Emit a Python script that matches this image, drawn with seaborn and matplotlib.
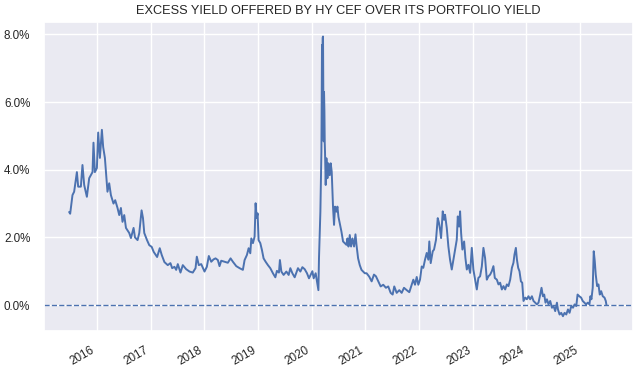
import numpy as np
import pandas as pd
import matplotlib
matplotlib.use('Agg')
import matplotlib.pyplot as plt
import matplotlib.dates as mdates
from matplotlib.ticker import PercentFormatter, MultipleLocator
import seaborn as sns

# dates as decimal years, excess yield in %
years = [
    2015.487, 2015.506, 2015.549, 2015.580, 2015.631, 2015.655, 2015.705, 2015.735,
    2015.767, 2015.817, 2015.860, 2015.922, 2015.940, 2015.966, 2016.004, 2016.028,
    2016.060, 2016.097, 2016.121, 2016.153, 2016.177, 2016.201, 2016.233, 2016.265,
    2016.313, 2016.345, 2016.388, 2016.420, 2016.451, 2016.481, 2016.513, 2016.545,
    2016.606, 2016.638, 2016.687, 2016.713, 2016.761, 2016.793, 2016.836, 2016.862,
    2016.886, 2016.937, 2016.979, 2017.022, 2017.060, 2017.123, 2017.172, 2017.209,
    2017.259, 2017.321, 2017.371,
    # 2017 - 2019
    2017.403, 2017.446, 2017.478, 2017.508, 2017.558, 2017.601, 2017.664, 2017.726,
    2017.787, 2017.838, 2017.862, 2017.899, 2017.944, 2018.006, 2018.049, 2018.086,
    2018.131, 2018.174, 2018.211, 2018.254, 2018.285, 2018.317, 2018.379, 2018.440,
    2018.491, 2018.534, 2018.597, 2018.659, 2018.720, 2018.752, 2018.795, 2018.827,
    2018.858, 2018.877, 2018.907, 2018.938, 2018.957, 2018.976, 2018.994, 2019.013,
    2019.045, 2019.075, 2019.106, 2019.144, 2019.187, 2019.231, 2019.280, 2019.325,
    2019.354, 2019.392, 2019.410, 2019.437, 2019.479, 2019.530, 2019.573, 2019.604,
    2019.642, 2019.685, 2019.746, 2019.791, 2019.828, 2019.871, 2019.914, 2019.951,
    # 2020 - 2021
    2020.015, 2020.039, 2020.076, 2020.101, 2020.127, 2020.138, 2020.164, 2020.183,
    2020.190, 2020.194, 2020.200, 2020.206, 2020.213, 2020.219, 2020.226, 2020.232,
    2020.239, 2020.245, 2020.250, 2020.263, 2020.276, 2020.295, 2020.313, 2020.338,
    2020.356, 2020.375, 2020.399, 2020.418, 2020.437, 2020.463, 2020.481, 2020.500,
    2020.524, 2020.556, 2020.586, 2020.618, 2020.649, 2020.668, 2020.687, 2020.711,
    2020.735, 2020.761, 2020.791, 2020.817, 2020.836, 2020.866, 2020.897, 2020.929,
    2020.959, 2020.991, 2021.022, 2021.071,
    # 2021 - 2023
    2021.116, 2021.159, 2021.196, 2021.239, 2021.284, 2021.332, 2021.382, 2021.425,
    2021.470, 2021.507, 2021.537, 2021.582, 2021.631, 2021.675, 2021.718, 2021.769,
    2021.817, 2021.862, 2021.892, 2021.923, 2021.955, 2021.985, 2022.017, 2022.049,
    2022.078, 2022.110, 2022.142, 2022.172, 2022.190, 2022.216, 2022.254, 2022.278,
    2022.315, 2022.347, 2022.371, 2022.390, 2022.409, 2022.440, 2022.465, 2022.483,
    2022.515, 2022.545, 2022.576, 2022.608, 2022.638, 2022.670, 2022.701, 2022.720,
    2022.744, 2022.763, 2022.782, 2022.806, 2022.838, 2022.862, 2022.888, 2022.918,
    2022.950, 2022.981, 2023.011, 2023.043, 2023.075, 2023.104, 2023.136, 2023.168,
    2023.198, 2023.229, 2023.261, 2023.291, 2023.323,
    # 2023 - 2025
    2023.354, 2023.384, 2023.410, 2023.448, 2023.478, 2023.509, 2023.541, 2023.571,
    2023.603, 2023.634, 2023.664, 2023.696, 2023.728, 2023.757, 2023.776, 2023.802,
    2023.821, 2023.845, 2023.869, 2023.896, 2023.920, 2023.944, 2023.976, 2024.007,
    2024.037, 2024.069, 2024.101, 2024.131, 2024.162, 2024.194, 2024.224, 2024.256,
    2024.280, 2024.306, 2024.330, 2024.354, 2024.381, 2024.410, 2024.442, 2024.474,
    2024.504, 2024.535, 2024.567, 2024.586, 2024.616, 2024.647, 2024.679, 2024.709,
    2024.741, 2024.772, 2024.802, 2024.834, 2024.866, 2024.896, 2024.927, 2024.951,
    2024.983, 2025.015, 2025.045, 2025.077, 2025.108, 2025.138, 2025.170, 2025.188,
    2025.207, 2025.231, 2025.250, 2025.269, 2025.287, 2025.313, 2025.338, 2025.362,
    2025.388, 2025.418, 2025.450, 2025.474, 2025.487,
]

excess_yield = [
    2.75, 2.70, 3.25, 3.35, 3.93, 3.50, 3.50, 4.14,
    3.55, 3.20, 3.75, 3.93, 4.80, 3.93, 4.05, 5.10,
    4.35, 5.18, 4.67, 4.35, 3.85, 3.35, 3.60, 3.25,
    3.00, 3.10, 2.87, 2.66, 2.87, 2.46, 2.66, 2.28,
    2.13, 1.98, 2.28, 2.00, 1.92, 2.13, 2.80, 2.57,
    2.13, 1.92, 1.77, 1.72, 1.57, 1.42, 1.68, 1.48,
    1.27, 1.18, 1.24,
    # 2017 - 2019
    1.09, 1.13, 1.04, 1.21, 0.96, 1.18, 1.06, 0.99,
    0.96, 1.09, 1.43, 1.18, 1.21, 0.99, 1.13, 1.45,
    1.28, 1.35, 1.38, 1.33, 1.15, 1.31, 1.28, 1.25,
    1.38, 1.28, 1.15, 1.09, 1.04, 1.33, 1.48, 1.68,
    1.53, 1.97, 1.83, 2.02, 3.01, 2.57, 2.71, 1.92,
    1.83, 1.63, 1.38, 1.28, 1.18, 1.09, 0.94, 0.82,
    1.01, 0.96, 1.33, 0.99, 0.89, 0.99, 0.89, 1.09,
    0.94, 0.82, 1.09, 0.99, 1.12, 1.06, 0.94, 0.79,
    # 2020 - 2021
    1.00, 0.79, 0.94, 0.69, 0.44, 1.38, 2.76, 4.54,
    6.50, 7.69, 5.80, 7.90, 7.94, 6.20, 4.84, 6.30,
    5.73, 4.80, 4.54, 3.55, 4.34, 3.75, 4.19, 3.84,
    4.19, 3.94, 2.91, 2.37, 2.91, 2.76, 2.91, 2.61,
    2.42, 2.17, 1.88, 1.83, 1.78, 1.97, 1.73, 2.07,
    1.73, 1.97, 1.73, 2.09, 1.78, 1.38, 1.18, 1.04,
    0.99, 0.94, 0.94, 0.84,
    # 2021 - 2023
    0.70, 0.90, 0.85, 0.70, 0.55, 0.60, 0.51, 0.55,
    0.36, 0.31, 0.55, 0.36, 0.44, 0.36, 0.51, 0.44,
    0.38, 0.60, 0.75, 0.60, 0.83, 0.60, 0.75, 1.14,
    1.10, 1.34, 1.54, 1.34, 1.88, 1.24, 1.59, 1.64,
    1.93, 2.57, 2.42, 2.23, 1.98, 2.77, 2.52, 2.67,
    2.28, 1.73, 1.34, 1.05, 1.34, 1.64, 1.93, 2.62,
    2.32, 2.77, 2.13, 1.64, 1.88, 1.39, 1.05, 1.19,
    0.95, 1.69, 1.05, 0.75, 0.46, 0.80, 0.85, 1.14,
    1.69, 1.39, 0.75, 0.85, 0.90,
    # 2023 - 2025
    1.00, 1.15, 0.80, 0.75, 0.61, 0.66, 0.46, 0.56,
    0.46, 0.61, 0.56, 0.75, 1.10, 1.25, 1.49, 1.69,
    1.35, 1.10, 1.00, 0.70, 0.66, 0.12, 0.22, 0.17,
    0.26, 0.17, 0.26, 0.12, 0.07, 0.02, 0.07, 0.31,
    0.51, 0.26, 0.31, 0.07, 0.17, 0.02, 0.12, -0.08,
    -0.03, -0.18, 0.07, -0.13, -0.28, -0.23, -0.33, -0.23,
    -0.28, -0.13, -0.23, -0.03, -0.08, 0.02, -0.03, 0.31,
    0.26, 0.22, 0.12, 0.07, 0.02, 0.07, 0.02, 0.26,
    0.17, 0.51, 1.59, 1.30, 0.90, 0.56, 0.61, 0.31,
    0.41, 0.26, 0.22, 0.12, 0.00,
]


def to_date(y):
    yr = int(np.floor(y))
    return pd.Timestamp(yr, 1, 1) + pd.Timedelta(days=(y - yr) * 365.25)


df = pd.DataFrame({'date': [to_date(y) for y in years], 'excess': excess_yield})

sns.set_theme(style='darkgrid', font_scale=0.765)
plt.rcParams['font.family'] = ['Liberation Sans', 'DejaVu Sans']

fig, ax = plt.subplots(figsize=(6.4, 3.72), dpi=100)
sns.lineplot(data=df, x='date', y='excess', ax=ax, color='#4C72B0', linewidth=1.4)
ax.axhline(0, color='#4C72B0', linestyle='--', linewidth=1.0)

ax.set_title('EXCESS YIELD OFFERED BY HY CEF OVER ITS PORTFOLIO YIELD')
ax.set_xlabel('')
ax.set_ylabel('')
ax.yaxis.set_major_locator(MultipleLocator(2))
ax.yaxis.set_major_formatter(PercentFormatter(100, decimals=1))
ax.xaxis.set_major_locator(mdates.YearLocator())
ax.xaxis.set_major_formatter(mdates.DateFormatter('%Y'))
ax.set_xlim(to_date(2015.01), to_date(2025.98))
ax.set_ylim(-0.77, 8.37)

fig.autofmt_xdate()
fig.subplots_adjust(left=0.068, right=0.989, top=0.941, bottom=0.11)
fig.savefig('out.png', dpi=100)
